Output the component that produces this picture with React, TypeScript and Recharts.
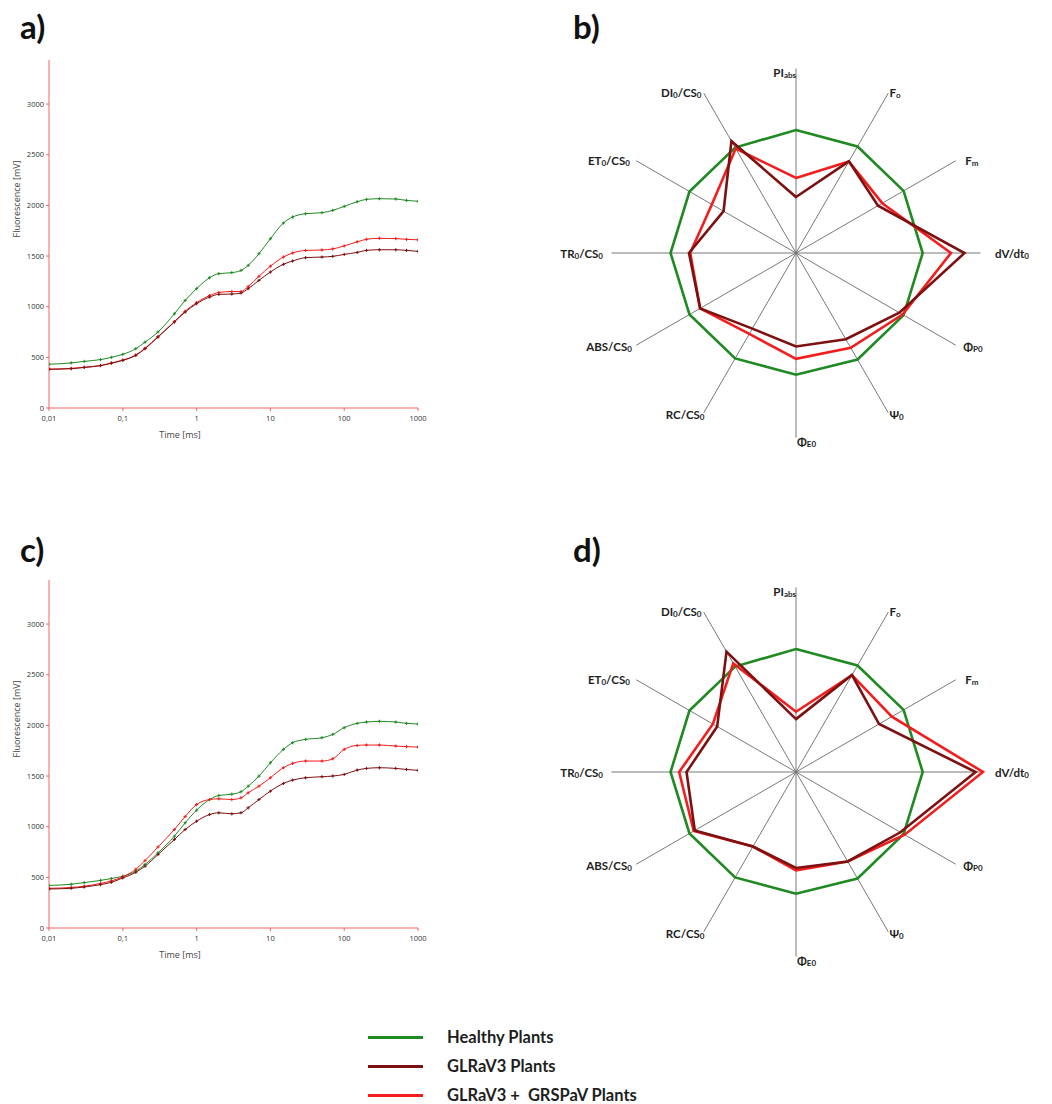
import {
  LineChart,
  Line,
  XAxis,
  YAxis,
  Label,
  RadarChart,
  Radar,
  PolarAngleAxis,
} from "recharts";

const GREEN = "#1f8a22";
const DARK_RED = "#7d1010";
const RED = "#f21d1d";
const AXIS_RED = "#f26262";

// OJIP transient sample times (ms)
const TIME_MS = [
  0.01, 0.02, 0.03, 0.05, 0.07, 0.1, 0.15, 0.2, 0.3, 0.5, 0.7, 1, 1.5, 2, 3, 4, 5, 7, 10, 15, 20, 30,
  50, 70, 100, 150, 200, 300, 500, 700, 1000,
];
const X_TICKS = [0.01, 0.1, 1, 10, 100, 1000];
const Y_TICKS = [0, 500, 1000, 1500, 2000, 2500, 3000];

// panel a
const A_HEALTHY = [
  432, 445, 460, 478, 500, 530, 585, 650, 750, 930, 1062, 1178, 1286, 1326, 1336, 1358, 1408, 1523,
  1671, 1826, 1885, 1918, 1928, 1951, 1990, 2036, 2059, 2066, 2063, 2049, 2040,
];
const A_GLR = [
  382, 388, 400, 418, 442, 470, 520, 585, 700, 849, 947, 1030, 1095, 1122, 1125, 1135, 1178, 1260,
  1342, 1418, 1451, 1484, 1490, 1497, 1516, 1536, 1556, 1562, 1562, 1556, 1546,
];
const A_MIX = [
  384, 391, 402, 420, 444, 473, 523, 590, 705, 852, 955, 1040, 1110, 1140, 1150, 1150, 1200, 1300,
  1400, 1490, 1530, 1555, 1560, 1570, 1600, 1640, 1665, 1675, 1672, 1665, 1660,
];

// panel c
const C_HEALTHY = [
  420, 432, 448, 470, 488, 511, 561, 627, 742, 906, 1038, 1163, 1268, 1308, 1321, 1345, 1400, 1499,
  1631, 1763, 1829, 1862, 1878, 1911, 1977, 2020, 2033, 2040, 2033, 2020, 2013,
];
const C_GLR = [
  385, 392, 405, 428, 451, 494, 550, 610, 725, 873, 972, 1054, 1120, 1137, 1127, 1137, 1186, 1268,
  1351, 1427, 1460, 1483, 1493, 1500, 1516, 1559, 1575, 1582, 1575, 1565, 1556,
];
const C_MIX = [
  392, 400, 412, 440, 465, 505, 580, 665, 800, 972, 1100, 1219, 1268, 1275, 1268, 1285, 1334, 1400,
  1483, 1582, 1625, 1648, 1648, 1670, 1763, 1802, 1806, 1806, 1796, 1790, 1786,
];

// JIP-test parameters, normalised to healthy plants
const RADAR_AXES = [
  "PIabs", "Fo", "Fm", "dV/dt0", "PhiPo", "Psi0", "PhiEo", "RC/CS0", "ABS/CS0", "TR0/CS0", "ET0/CS0", "DI0/CS0",
];
const B_HEALTHY = [1, 1, 1.01, 1.03, 1.01, 1, 0.99, 0.99, 1, 1.02, 1, 0.99];
const B_GLR = [0.455, 0.86, 0.77, 1.37, 0.97, 0.81, 0.76, 0.71, 0.9, 0.87, 0.68, 1.05];
const B_MIX = [0.61, 0.86, 0.81, 1.26, 1.0, 0.89, 0.86, 0.76, 0.9, 0.86, 0.79, 0.98];
const D_HEALTHY = [1, 1, 1.01, 1.03, 1.01, 1, 0.99, 0.99, 1, 1.02, 1, 0.99];
const D_GLR = [0.43, 0.91, 0.78, 1.46, 0.98, 0.84, 0.78, 0.7, 0.95, 0.89, 0.74, 1.13];
const D_MIX = [0.49, 0.91, 0.9, 1.52, 1.02, 0.84, 0.8, 0.7, 0.96, 0.95, 0.78, 1.02];
// length of the spokes, in the same normalised units
const SPOKE = 1.5;

// radar geometry (the radius axis resolves to 0..4 here)
const R_CX = 296;
const R_CY = 203;
const R_OUTER = 492;
const LABEL_R = 193;

type Part = [string, boolean];
const AXIS_LABELS: Record<string, { parts: Part[]; anchor?: string; dx?: number; dy?: number }> = {
  PIabs: { parts: [["PI", false], ["abs", true]], anchor: "end", dx: 0, dy: 12 },
  Fo: { parts: [["F", false], ["o", true]], dx: -3, dy: 6 },
  Fm: { parts: [["F", false], ["m", true]], dx: 2, dy: 3 },
  "dV/dt0": { parts: [["dV/dt", false], ["0", true]], dx: 6 },
  PhiPo: { parts: [["Φ", false], ["P0", true]], dx: 0, dy: -4 },
  Psi0: { parts: [["Ψ", false], ["0", true]], dx: -3, dy: -6 },
  PhiEo: { parts: [["Φ", false], ["E0", true]], anchor: "start", dx: 1, dy: -5 },
  "RC/CS0": { parts: [["RC/CS", false], ["0", true]], dx: 5, dy: -6 },
  "ABS/CS0": { parts: [["ABS/CS", false], ["0", true]], dx: 3, dy: -4 },
  "TR0/CS0": { parts: [["TR", false], ["0", true], ["/CS", false], ["0", true]], dx: 0 },
  "ET0/CS0": { parts: [["ET", false], ["0", true], ["/CS", false], ["0", true]], dx: 1, dy: 3 },
  "DI0/CS0": { parts: [["DI", false], ["0", true], ["/CS", false], ["0", true]], dx: 2, dy: 6 },
};

function RadarTick(props: any) {
  const { x, y, payload, textAnchor } = props;
  const def = AXIS_LABELS[payload.value];
  if (!def) return null;
  // pull the label in from the outer radius to just past the spoke end
  const k = LABEL_R / (R_OUTER + 8);
  const lx = R_CX + (x - R_CX) * k;
  const ly = R_CY + (y - R_CY) * k;
  let prevSub = false;
  return (
    <text
      x={lx + (def.dx ?? 0)}
      y={ly + (def.dy ?? 0)}
      textAnchor={def.anchor ?? textAnchor}
      dominantBaseline="central"
      fontFamily="Lato, 'Open Sans', sans-serif"
      fontWeight={700}
      fontSize={11.5}
      fill="#1e1e1e"
    >
      {def.parts.map(([s, sub], i) => {
        const dy = sub && !prevSub ? 3 : !sub && prevSub ? -3 : 0;
        prevSub = sub;
        return (
          <tspan key={i} dy={dy} fontSize={sub ? 8 : 11.5}>
            {s}
          </tspan>
        );
      })}
    </text>
  );
}

function SpokeShape(p: any) {
  const pts = p.points || [];
  return (
    <g>
      {pts.map((pt: any, i: number) => (
        <line key={i} x1={pt.cx} y1={pt.cy} x2={pt.x} y2={pt.y} stroke="#6a6a6a" strokeWidth={0.9} />
      ))}
    </g>
  );
}

function crossDot(color: string) {
  return (p: any) => {
    const { cx, cy, index } = p;
    if (cx == null || cy == null) return <g key={index} />;
    return (
      <path
        key={index}
        d={`M${cx - 1.6},${cy}h3.2M${cx},${cy - 1.6}v3.2`}
        stroke={color}
        strokeWidth={1}
        fill="none"
      />
    );
  };
}

function OjipChart({ healthy, glr, mix, top }: { healthy: number[]; glr: number[]; mix: number[]; top: number }) {
  const data = TIME_MS.map((t, i) => ({ t, healthy: healthy[i], glr: glr[i], mix: mix[i] }));
  const tickStyle = { fontSize: 7.5, fill: "#333", fontFamily: "'Open Sans', sans-serif" };
  return (
    <div style={{ position: "absolute", left: 0, top }}>
      <LineChart width={430} height={460} data={data} margin={{ top: 60, right: 12, left: 0, bottom: 22 }}>
        <XAxis
          dataKey="t"
          type="number"
          scale="log"
          domain={[0.01, 1000]}
          ticks={X_TICKS}
          allowDataOverflow
          tickFormatter={(v: number) => String(v).replace(".", ",")}
          stroke={AXIS_RED}
          tickSize={3}
          tickMargin={5}
          tick={tickStyle}
          height={30}
        >
          <Label
            content={(p: any) => {
              const vb = p.viewBox;
              return (
                <text
                  x={vb.x + 131}
                  y={vb.y + 26}
                  textAnchor="middle"
                  dominantBaseline="central"
                  fontSize={9}
                  fill="#444"
                  fontFamily="'Open Sans', sans-serif"
                >
                  Time [ms]
                </text>
              );
            }}
          />
        </XAxis>
        <YAxis
          type="number"
          domain={[0, 3435]}
          ticks={Y_TICKS}
          allowDataOverflow
          width={49}
          stroke={AXIS_RED}
          tickSize={3}
          tick={tickStyle}
        >
          <Label
            content={(p: any) => {
              const vb = p.viewBox;
              const cy = vb.y + 139;
              return (
                <text
                  x={16}
                  y={cy}
                  transform={`rotate(-90 16 ${cy})`}
                  textAnchor="middle"
                  dominantBaseline="central"
                  fontSize={9}
                  fill="#444"
                  fontFamily="'Open Sans', sans-serif"
                >
                  Fluorescence [mV]
                </text>
              );
            }}
          />
        </YAxis>
        <Line dataKey="healthy" type="monotone" stroke={GREEN} strokeWidth={1} dot={crossDot(GREEN)} isAnimationActive={false} />
        <Line dataKey="mix" type="monotone" stroke={RED} strokeWidth={1} dot={crossDot(RED)} isAnimationActive={false} />
        <Line dataKey="glr" type="monotone" stroke={DARK_RED} strokeWidth={1} dot={crossDot(DARK_RED)} isAnimationActive={false} />
      </LineChart>
    </div>
  );
}

function JipRadar({ healthy, glr, mix, top }: { healthy: number[]; glr: number[]; mix: number[]; top: number }) {
  const data = RADAR_AXES.map((k, i) => ({ k, spoke: SPOKE, healthy: healthy[i], glr: glr[i], mix: mix[i] }));
  return (
    <div style={{ position: "absolute", left: 500, top }}>
      <RadarChart
        width={540}
        height={410}
        cx={R_CX}
        cy={R_CY}
        outerRadius={R_OUTER}
        startAngle={90}
        endAngle={-270}
        data={data}
      >
        <PolarAngleAxis dataKey="k" tick={RadarTick} tickLine={false} axisLine={false} />
        <Radar dataKey="spoke" shape={SpokeShape} stroke="none" fill="none" dot={false} isAnimationActive={false} />
        <Radar dataKey="healthy" stroke={GREEN} strokeWidth={2.6} fill="none" fillOpacity={0} dot={false} isAnimationActive={false} />
        <Radar dataKey="mix" stroke={RED} strokeWidth={2.6} fill="none" fillOpacity={0} dot={false} isAnimationActive={false} />
        <Radar dataKey="glr" stroke={DARK_RED} strokeWidth={2.6} fill="none" fillOpacity={0} dot={false} isAnimationActive={false} />
      </RadarChart>
    </div>
  );
}

const panelLetter: React.CSSProperties = {
  position: "absolute",
  fontFamily: "Lato, 'Open Sans', sans-serif",
  fontWeight: 700,
  fontSize: 33,
  color: "#111",
  lineHeight: 1,
};

const LEGEND = [
  { label: "Healthy Plants", color: GREEN },
  { label: "GLRaV3 Plants", color: DARK_RED },
  { label: "GLRaV3 +  GRSPaV Plants", color: RED },
];

export default function App() {
  return (
    <div style={{ position: "relative", width: 1052, height: 1104, background: "#fff", overflow: "hidden" }}>
      <style>{`body{margin:0}`}</style>
      <div style={{ ...panelLetter, left: 20, top: 10 }}>a)</div>
      <div style={{ ...panelLetter, left: 573, top: 10 }}>b)</div>
      <div style={{ ...panelLetter, left: 20, top: 533 }}>c)</div>
      <div style={{ ...panelLetter, left: 573, top: 533 }}>d)</div>

      <OjipChart healthy={A_HEALTHY} glr={A_GLR} mix={A_MIX} top={0} />
      <OjipChart healthy={C_HEALTHY} glr={C_GLR} mix={C_MIX} top={520} />
      <JipRadar healthy={B_HEALTHY} glr={B_GLR} mix={B_MIX} top={50} />
      <JipRadar healthy={D_HEALTHY} glr={D_GLR} mix={D_MIX} top={569} />

      {LEGEND.map((l, i) => (
        <div key={l.label} style={{ position: "absolute", left: 368, top: 1026 + i * 29, height: 22, display: "flex", alignItems: "center" }}>
          <div style={{ width: 55, height: 3, background: l.color }} />
          <div
            style={{
              marginLeft: 24,
              fontFamily: "Lato, 'Open Sans', sans-serif",
              fontWeight: 700,
              fontSize: 16.5,
              color: "#1e1e1e",
              whiteSpace: "pre",
            }}
          >
            {l.label}
          </div>
        </div>
      ))}
    </div>
  );
}
